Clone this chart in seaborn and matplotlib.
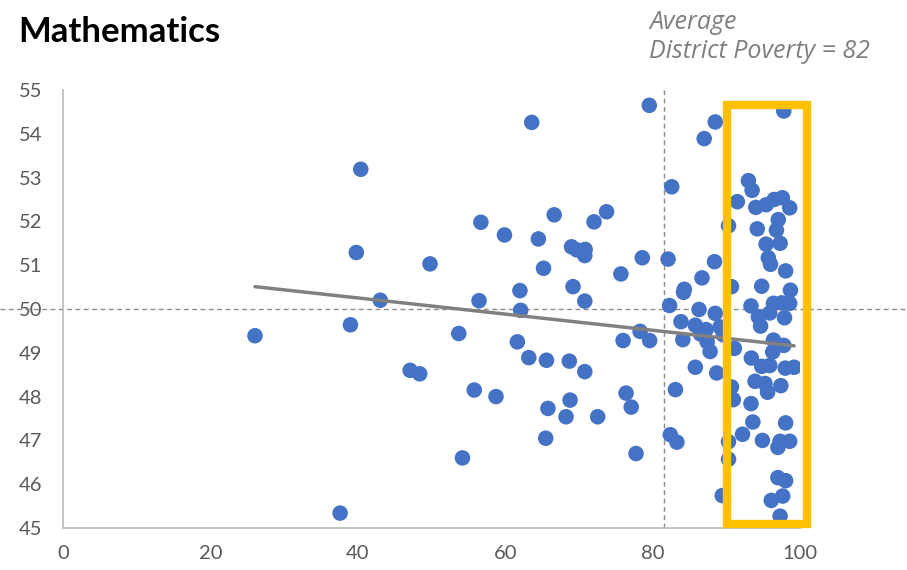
import numpy as np
import pandas as pd
import matplotlib
matplotlib.use("Agg")
import matplotlib.pyplot as plt
from matplotlib.patches import Rectangle
from matplotlib.transforms import blended_transform_factory
import seaborn as sns

# District poverty (%) vs. mathematics score, one point per school
poverty = [
    26.05, 37.6, 39.0, 39.8, 40.4, 43.05, 47.1, 48.4, 49.8, 53.7,
    54.2, 55.8, 56.45, 56.7, 58.75, 59.9, 61.65, 62.0, 62.1, 63.2,
    63.6, 64.5, 65.2, 65.5, 65.6, 65.8, 66.65, 68.25, 68.7, 68.8,
    69.0, 69.2, 69.7, 70.85, 70.8, 70.8, 70.8, 72.05, 72.55, 73.75,
    75.7, 76.0, 76.4, 77.1, 77.75, 78.3, 78.6, 79.55, 79.6,
    82.1, 82.3, 82.4, 82.6, 83.1, 83.3, 83.85, 84.1, 84.2, 84.3,
    85.8, 85.8, 86.3, 86.5, 86.7, 87.0, 87.25, 87.4, 87.8, 88.4,
    88.5, 88.5, 88.7, 89.15, 89.45, 89.6, 90.3, 90.3, 90.3, 90.7,
    90.7, 90.95, 91.1, 91.5, 92.2, 93.0, 93.35, 93.35, 93.4, 93.5,
    93.6, 93.9, 94.0, 94.2, 94.35, 94.65, 94.8, 94.8, 94.9, 95.25,
    95.4, 95.4, 95.6, 95.7, 95.9, 95.9, 96.0, 96.1, 96.3, 96.4,
    96.4, 96.5, 96.8, 97.0, 97.0, 97.05, 97.3, 97.3, 97.3, 97.4,
    97.5, 97.6, 97.65, 97.8, 97.8, 97.9, 98.0, 98.05, 98.05, 98.05,
    98.6, 98.6, 98.6, 98.7, 99.2,
]
score = [
    49.39, 45.34, 49.64, 51.29, 53.19, 50.20, 48.60, 48.52, 51.03, 49.44,
    46.60, 48.15, 50.19, 51.98, 48.00, 51.69, 49.25, 50.42, 49.97, 48.89,
    54.26, 51.60, 50.93, 47.05, 48.83, 47.73, 52.15, 47.54, 48.81, 47.92,
    51.42, 50.51, 51.35, 51.36, 51.22, 50.18, 48.57, 51.99, 47.54, 52.22,
    50.80, 49.28, 48.08, 47.76, 46.70, 49.49, 51.17, 54.65, 49.28,
    51.14, 50.08, 47.13, 52.79, 48.16, 46.96, 49.71, 49.30, 50.38, 50.45,
    49.63, 48.67, 49.99, 49.43, 50.71, 53.89, 49.53, 49.25, 49.03, 51.08,
    49.90, 54.27, 48.54, 49.59, 45.74, 49.41, 51.90, 46.97, 46.57, 50.51,
    48.22, 47.93, 49.10, 52.45, 47.14, 52.93, 50.07, 47.84, 48.88, 52.71,
    47.42, 48.35, 52.32, 51.83, 49.82, 49.61, 50.52, 48.69, 47.00, 48.30,
    52.38, 51.48, 48.10, 51.17, 49.91, 48.71, 51.02, 45.63, 49.02, 50.13,
    49.29, 52.50, 51.80, 46.84, 46.15, 52.04, 51.50, 46.98, 45.27, 48.25,
    50.14, 52.54, 45.73, 49.17, 54.52, 49.80, 48.65, 50.87, 47.40, 46.08,
    52.31, 50.13, 46.98, 50.43, 48.67,
]

# Linear trend for the district (start / end of the fitted line)
trend_poverty = [26.05, 99.2]
trend_score = [50.51, 49.16]

x_ticks = [0, 20, 40, 60, 80, 100]
y_ticks = [45, 46, 47, 48, 49, 50, 51, 52, 53, 54, 55]

avg_poverty = 81.5      # district average shown as the vertical reference
avg_score = 50          # horizontal reference
focus_range = (90.1, 101.0)   # highlighted high-poverty band
focus_scores = (45.09, 54.66)

df = pd.DataFrame({"poverty": poverty, "score": score})
trend = pd.DataFrame({"poverty": trend_poverty, "score": trend_score})

sns.set_style("white")
plt.rcParams["font.family"] = ["Lato", "DejaVu Sans"]

fig = plt.figure(figsize=(9.07, 5.70), dpi=100)
ax = fig.add_axes([63 / 907, 1 - 528 / 570, (800 - 63) / 907, (528 - 90) / 570])

grey_dash = dict(color="#8c8c8c", lw=1.0, dashes=(3.5, 2.5), zorder=1)

# Reference lines: average poverty (vertical) and score 50 across the full width
ax.axvline(avg_poverty, **grey_dash)
trans = blended_transform_factory(fig.transFigure, ax.transData)
ax.plot([0, 1], [avg_score, avg_score], transform=trans, clip_on=False, **grey_dash)

sns.scatterplot(data=df, x="poverty", y="score", ax=ax, s=125,
                color="#4472C4", edgecolor="none", linewidth=0, zorder=2)
sns.lineplot(data=trend, x="poverty", y="score", ax=ax, color="#808080",
             lw=2.5, zorder=3, solid_capstyle="round")

ax.add_patch(Rectangle((focus_range[0], focus_scores[0]),
                       focus_range[1] - focus_range[0],
                       focus_scores[1] - focus_scores[0],
                       fill=False, edgecolor="#FFC000", lw=6, zorder=4,
                       clip_on=False, joinstyle="miter"))

ax.set_xlim(0, 100)
ax.set_ylim(45, 55)
ax.set_xticks(x_ticks)
ax.set_yticks(y_ticks)
ax.set_xlabel("")
ax.set_ylabel("")
ax.tick_params(axis="both", length=0, labelsize=14.5, labelcolor="#595959")
ax.tick_params(axis="x", pad=12)
ax.tick_params(axis="y", pad=15)
for side in ("top", "right"):
    ax.spines[side].set_visible(False)
for side in ("left", "bottom"):
    ax.spines[side].set_color("#BFBFBF")
    ax.spines[side].set_linewidth(1.3)
ax.patch.set_alpha(0)

fig.text(18 / 907, 1 - 42 / 570, "Mathematics", fontsize=25, fontweight="bold",
         color="black", ha="left", va="baseline")
note = dict(fontsize=18, fontstyle="italic", color="#7f7f7f", ha="left",
            va="baseline", family=["Open Sans", "DejaVu Sans"])
fig.text(649 / 907, 1 - 29 / 570, "Average", **note)
fig.text(649 / 907, 1 - 58 / 570, "District Poverty = 82", **note)

fig.savefig("out.png", dpi=100)
